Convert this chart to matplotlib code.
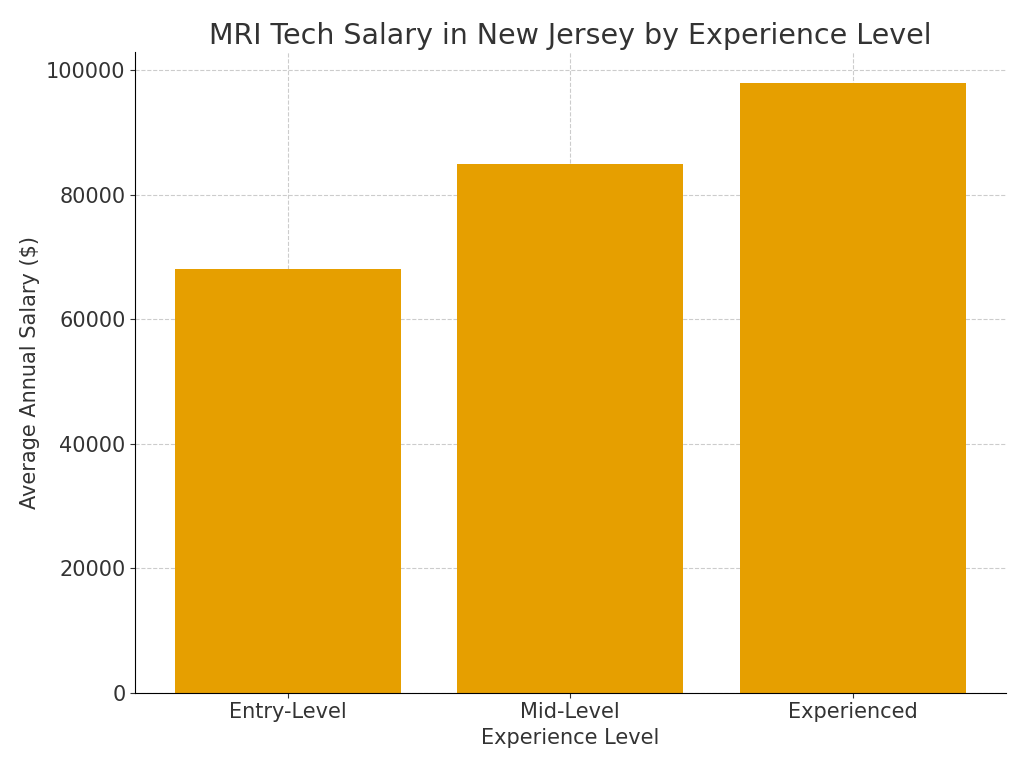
import matplotlib
matplotlib.use("Agg")
import matplotlib.pyplot as plt

levels = ["Entry-Level", "Mid-Level", "Experienced"]
salaries = [68000, 85000, 98000]

fig, ax = plt.subplots(figsize=(10.24, 7.68), dpi=100)
ax.bar(levels, salaries, color="#E69F00", zorder=2)
ax.grid(True, linestyle="--", color="#cccccc", linewidth=0.8, zorder=0)
ax.spines["top"].set_visible(False)
ax.spines["right"].set_visible(False)
ax.tick_params(labelsize=15, colors="#333333")
ax.set_xlabel("Experience Level", fontsize=15, color="#333333")
ax.set_ylabel("Average Annual Salary ($)", fontsize=15, color="#333333")
ax.set_title("MRI Tech Salary in New Jersey by Experience Level", fontsize=20.5, color="#333333")
fig.subplots_adjust(left=0.132, right=0.982, top=0.932, bottom=0.098)
fig.savefig("out.png")
